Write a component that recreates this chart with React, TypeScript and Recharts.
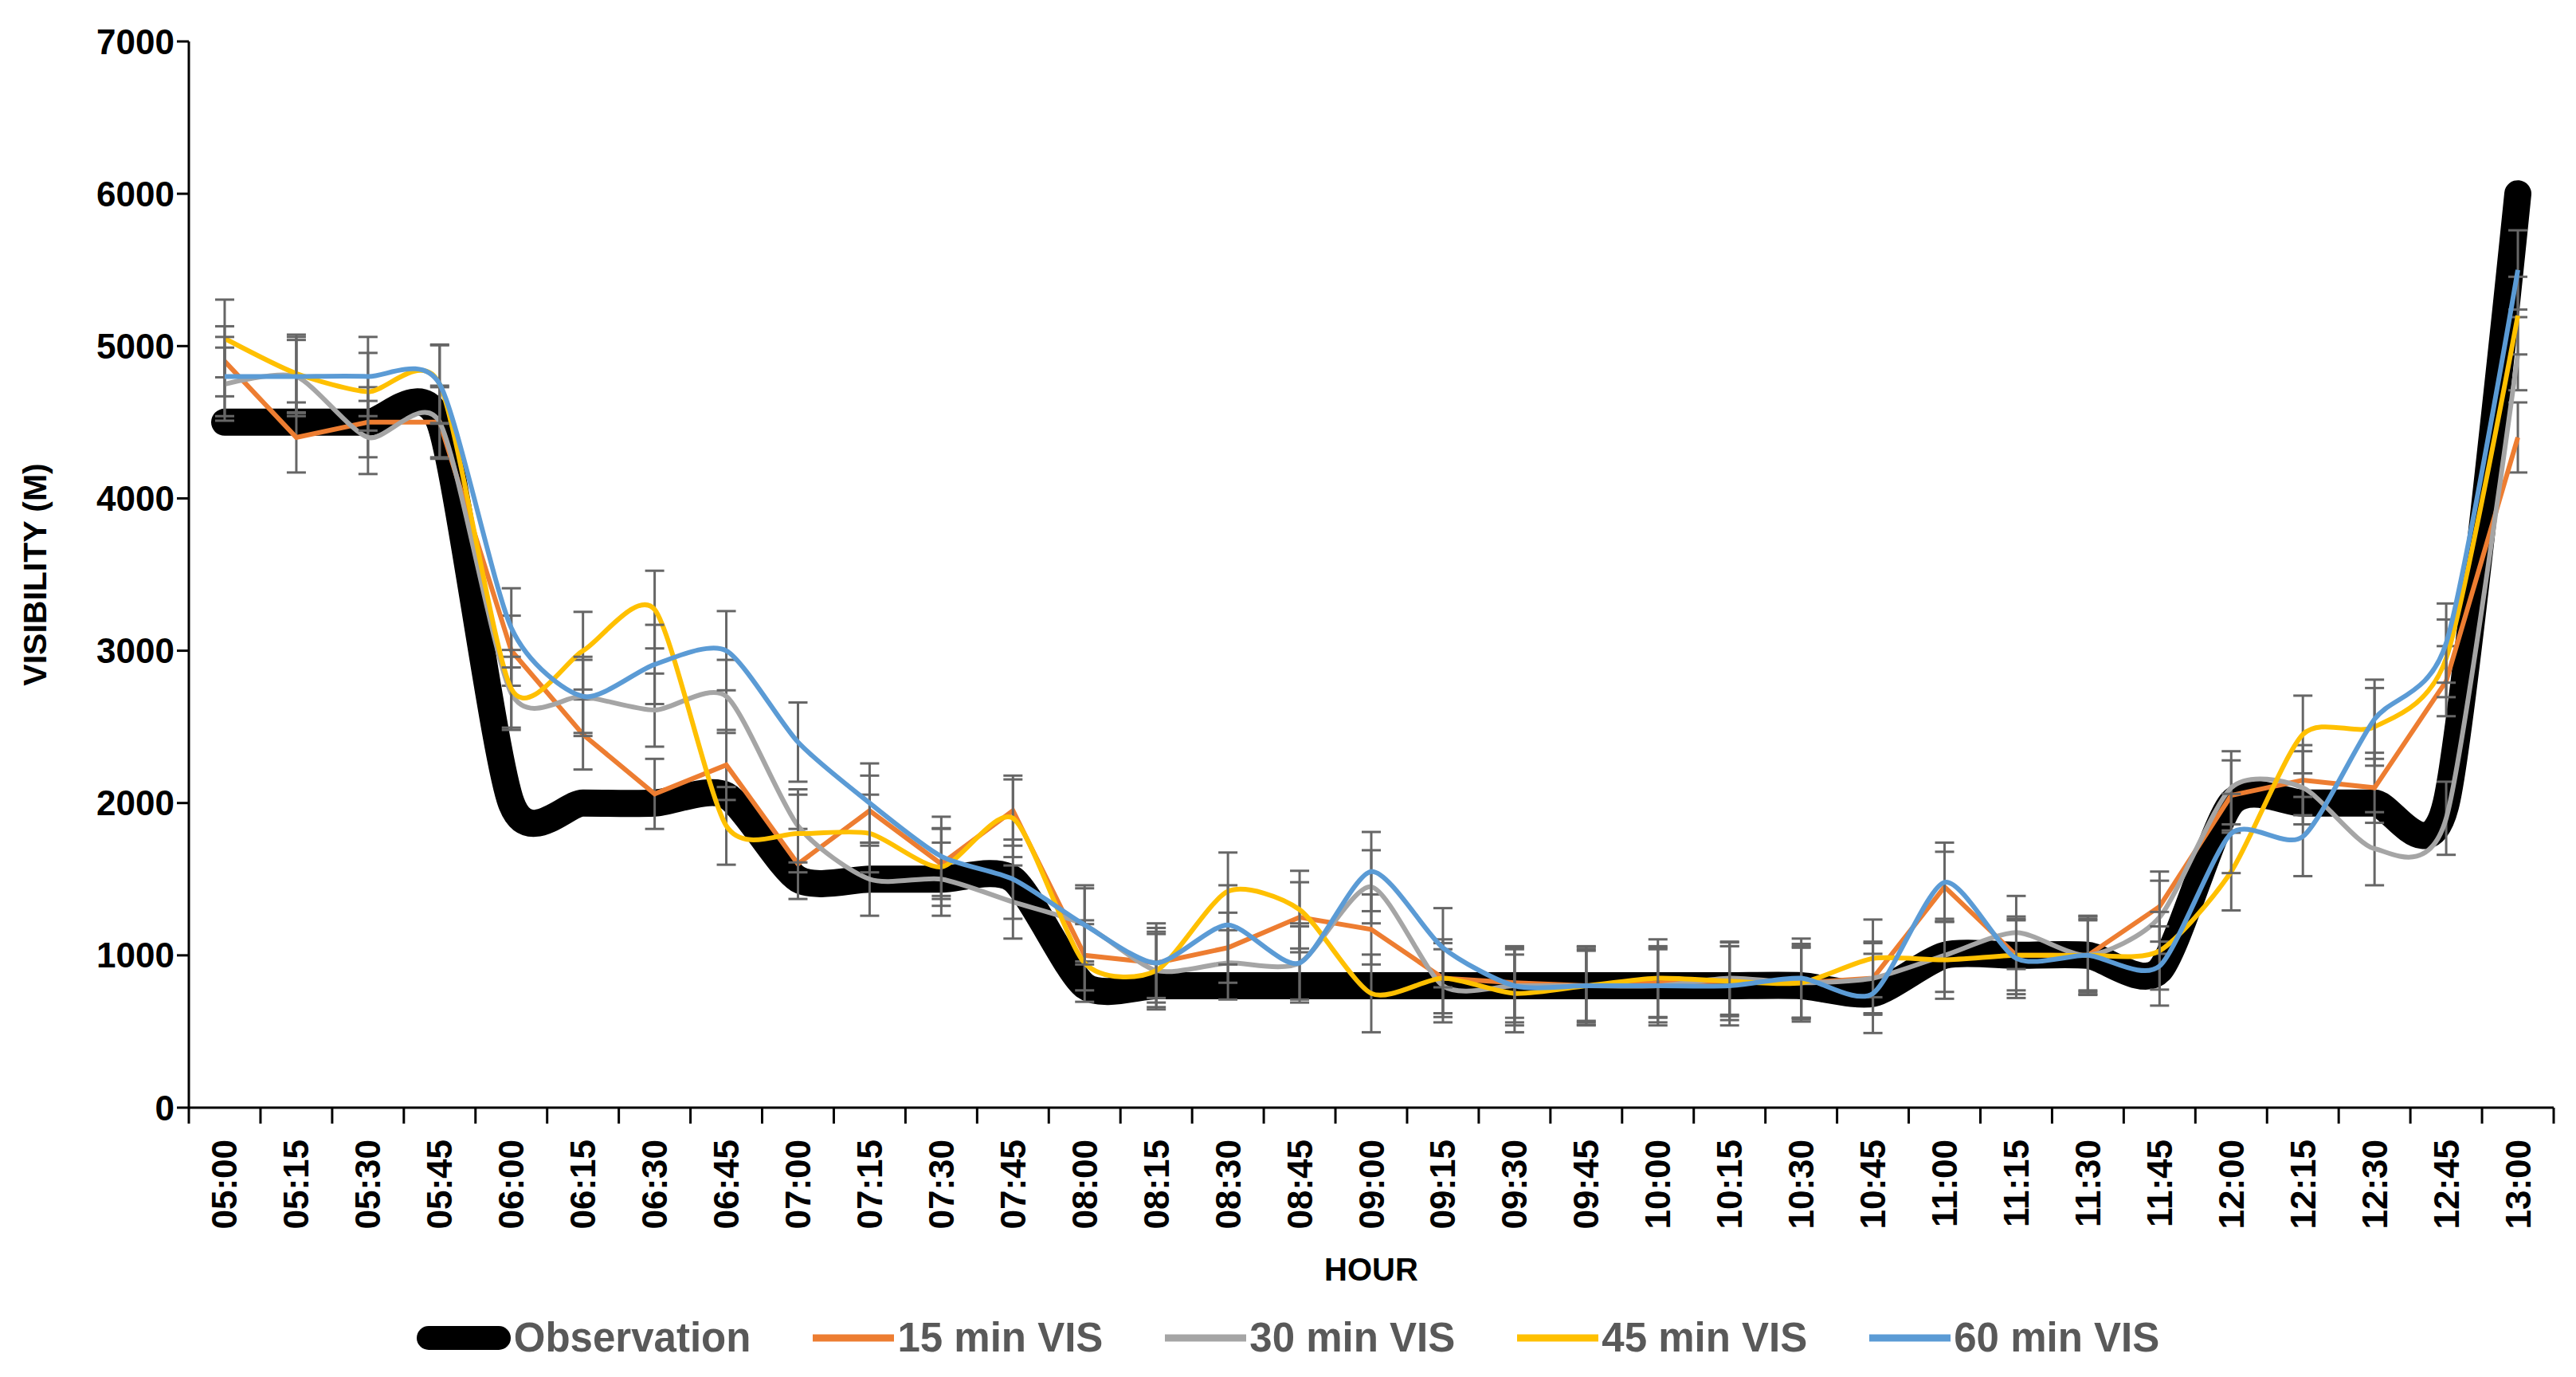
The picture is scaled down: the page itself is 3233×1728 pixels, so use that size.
import React from 'react';
import { LineChart, Line, XAxis, YAxis, ErrorBar } from 'recharts';

const TIMES = [
  '05:00', '05:15', '05:30', '05:45', '06:00', '06:15', '06:30', '06:45',
  '07:00', '07:15', '07:30', '07:45', '08:00', '08:15', '08:30', '08:45',
  '09:00', '09:15', '09:30', '09:45', '10:00', '10:15', '10:30', '10:45',
  '11:00', '11:15', '11:30', '11:45', '12:00', '12:15', '12:30', '12:45', '13:00',
];

const OBSERVATION = [
  4500, 4500, 4500, 4500, 2000, 2000, 2000, 2050,
  1500, 1500, 1500, 1500, 800, 800, 800, 800,
  800, 800, 800, 800, 800, 800, 800, 750,
  1000, 1000, 1000, 900, 2000, 2000, 2000, 2000, 6000,
];

const VIS_15 = [
  4900, 4400, 4500, 4500, 3000, 2450, 2060, 2250,
  1600, 1950, 1600, 1950, 1000, 950, 1050, 1250,
  1170, 850, 820, 800, 820, 830, 820, 850,
  1450, 1000, 1000, 1320, 2050, 2150, 2100, 2800, 4400,
];

const VIS_30 = [
  4750, 4800, 4400, 4500, 2720, 2700, 2610, 2700,
  1850, 1500, 1500, 1350, 1200, 900, 950, 950,
  1450, 800, 800, 800, 800, 850, 820, 850,
  1000, 1150, 1000, 1250, 2100, 2100, 1700, 1900, 4950,
];

const VIS_45 = [
  5050, 4820, 4700, 4750, 2750, 3000, 3270, 1850,
  1800, 1800, 1580, 1900, 950, 900, 1420, 1300,
  750, 850, 750, 800, 850, 830, 820, 980,
  970, 1000, 1000, 1030, 1550, 2450, 2500, 2950, 5200,
];

const VIS_60 = [
  4800, 4800, 4800, 4750, 3150, 2700, 2910, 3000,
  2400, 2000, 1650, 1500, 1200, 950, 1200, 950,
  1550, 1050, 800, 800, 800, 800, 850, 750,
  1480, 980, 1000, 930, 1800, 1780, 2550, 3050, 5500,
];

// standard-error style bars (same size at every point of a series)
const ERR_15 = 230;
const ERR_30 = 240;
const ERR_45 = 255;
const ERR_60 = 260;

const Y_TICKS = [0, 1000, 2000, 3000, 4000, 5000, 6000, 7000];

const SERIES = [
  { key: 'obs', name: 'Observation', color: '#000000' },
  { key: 'v15', name: '15 min VIS', color: '#ED7D31' },
  { key: 'v30', name: '30 min VIS', color: '#A5A5A5' },
  { key: 'v45', name: '45 min VIS', color: '#FFC000' },
  { key: 'v60', name: '60 min VIS', color: '#5B9BD5' },
];

const data = TIMES.map((t, i) => ({
  time: t,
  obs: OBSERVATION[i],
  v15: VIS_15[i],
  v30: VIS_30[i],
  v45: VIS_45[i],
  v60: VIS_60[i],
  e15: ERR_15,
  e30: ERR_30,
  e45: ERR_45,
  e60: ERR_60,
}));

const W = 3233;
const H = 1728;
const M_TOP = 52;
const M_RIGHT = 28;
const Y_W = 237;
const X_H = 338;
const BAND = (W - M_RIGHT - Y_W) / TIMES.length;
const FONT = "'Liberation Sans', Arial, sans-serif";

// Excel-like smoothing: cardinal spline with reduced tangent
function excelSmooth(k: number) {
  return (context: any) => {
    let x0 = NaN, y0 = NaN, x1 = NaN, y1 = NaN, x2 = NaN, y2 = NaN;
    let pt = 0;
    let line: number = NaN;
    const seg = (x: number, y: number) => {
      context.bezierCurveTo(
        x1 + k * (x2 - x0), y1 + k * (y2 - y0),
        x2 + k * (x1 - x), y2 + k * (y1 - y),
        x2, y2,
      );
    };
    return {
      areaStart() { line = 0; },
      areaEnd() { line = NaN; },
      lineStart() { x0 = x1 = x2 = y0 = y1 = y2 = NaN; pt = 0; },
      lineEnd() {
        switch (pt) {
          case 2: context.lineTo(x2, y2); break;
          case 3: seg(x1, y1); break;
        }
        if (line || (line !== 0 && pt === 1)) context.closePath();
        line = 1 - line;
      },
      point(xx: number, yy: number) {
        const x = +xx;
        const y = +yy;
        switch (pt) {
          case 0: pt = 1; if (line) context.lineTo(x, y); else context.moveTo(x, y); break;
          case 1: pt = 2; x1 = x; y1 = y; break;
          case 2: pt = 3; seg(x, y); break;
          default: seg(x, y); break;
        }
        x0 = x1; x1 = x2; x2 = x;
        y0 = y1; y1 = y2; y2 = y;
      },
    };
  };
}

const SMOOTH = excelSmooth(0.12);

const XTick = (props: any) => {
  const { x, y, payload, index } = props;
  const ty = y + 40;
  const last = index === TIMES.length - 1;
  return (
    <g>
      <line x1={x - BAND / 2} x2={x - BAND / 2} y1={y} y2={y + 20} stroke="#000" strokeWidth={3} />
      {last && <line x1={x + BAND / 2} x2={x + BAND / 2} y1={y} y2={y + 20} stroke="#000" strokeWidth={3} />}
      <text
        x={x}
        y={ty}
        transform={`rotate(-90 ${x} ${ty})`}
        textAnchor="end"
        dominantBaseline="central"
        fontSize={44}
        fontWeight="bold"
        fontFamily={FONT}
        fill="#000"
      >
        {payload.value}
      </text>
    </g>
  );
};

const YLabel = (props: any) => {
  const vb = props.viewBox || { x: 0, y: M_TOP, width: Y_W, height: H - M_TOP - X_H };
  const cx = 44;
  const cy = vb.y + vb.height / 2;
  return (
    <text
      x={cx}
      y={cy}
      transform={`rotate(-90 ${cx} ${cy})`}
      textAnchor="middle"
      dominantBaseline="central"
      fontSize={41}
      fontWeight="bold"
      fontFamily={FONT}
      fill="#000"
    >
      VISIBILITY (M)
    </text>
  );
};

const XLabel = (props: any) => {
  const vb = props.viewBox || { x: Y_W, y: H - X_H, width: W - Y_W - M_RIGHT, height: X_H };
  const cx = vb.x + vb.width / 2;
  const cy = vb.y + 203;
  return (
    <text
      x={cx}
      y={cy}
      textAnchor="middle"
      dominantBaseline="central"
      fontSize={40}
      fontWeight="bold"
      fontFamily={FONT}
      fill="#000"
    >
      HOUR
    </text>
  );
};

const Legend = () => (
  <div
    style={{
      position: 'absolute',
      left: 0,
      top: 1679 - 30,
      width: W,
      height: 60,
      display: 'flex',
      justifyContent: 'center',
      alignItems: 'center',
      fontFamily: FONT,
      fontWeight: 'bold',
      fontSize: 51,
      color: '#595959',
    }}
  >
    {SERIES.map((s, i) => (
      <div key={s.key} style={{ display: 'flex', alignItems: 'center', marginLeft: i === 0 ? 0 : 78 }}>
        <svg width={i === 0 ? 118 : 102} height={36} style={{ display: 'block' }}>
          {i === 0 ? (
            <line x1={15} x2={103} y1={18} y2={18} stroke={s.color} strokeWidth={30} strokeLinecap="round" />
          ) : (
            <line x1={0} x2={102} y1={18} y2={18} stroke={s.color} strokeWidth={9} />
          )}
        </svg>
        <span style={{ marginLeft: 4, lineHeight: '60px' }}>{s.name}</span>
      </div>
    ))}
  </div>
);

export default function App() {
  return (
    <div style={{ position: 'absolute', left: 0, top: 0, width: W, height: H, background: '#fff' }}>
      <LineChart
        width={W}
        height={H}
        data={data}
        margin={{ top: M_TOP, right: M_RIGHT, bottom: 0, left: 0 }}
      >
        <XAxis
          dataKey="time"
          interval={0}
          height={X_H}
          padding={{ left: BAND / 2, right: BAND / 2 }}
          tick={<XTick />}
          tickLine={false}
          tickSize={0}
          tickMargin={0}
          axisLine={{ stroke: '#000', strokeWidth: 3 }}
          label={<XLabel />}
        />
        <YAxis
          width={Y_W}
          domain={[0, 7000]}
          ticks={Y_TICKS}
          interval={0}
          tickSize={15}
          tickMargin={3}
          axisLine={{ stroke: '#000', strokeWidth: 3 }}
          tickLine={{ stroke: '#000', strokeWidth: 3 }}
          tick={{ fontSize: 44, fontWeight: 'bold', fill: '#000', fontFamily: FONT }}
          label={<YLabel />}
        />
        <Line
          dataKey="obs"
          type={SMOOTH as any}
          stroke="#000"
          strokeWidth={34}
          strokeLinecap="round"
          strokeLinejoin="round"
          dot={false}
          activeDot={false}
          isAnimationActive={false}
        />
        <Line
          dataKey="v15"
          type="linear"
          stroke="#ED7D31"
          strokeWidth={6}
          dot={false}
          activeDot={false}
          isAnimationActive={false}
        >
          <ErrorBar dataKey="e15" direction="y" width={12} stroke="#666666" strokeWidth={3} />
        </Line>
        <Line
          dataKey="v30"
          type={SMOOTH as any}
          stroke="#A5A5A5"
          strokeWidth={6}
          dot={false}
          activeDot={false}
          isAnimationActive={false}
        >
          <ErrorBar dataKey="e30" direction="y" width={12} stroke="#666666" strokeWidth={3} />
        </Line>
        <Line
          dataKey="v45"
          type={SMOOTH as any}
          stroke="#FFC000"
          strokeWidth={6}
          dot={false}
          activeDot={false}
          isAnimationActive={false}
        >
          <ErrorBar dataKey="e45" direction="y" width={12} stroke="#666666" strokeWidth={3} />
        </Line>
        <Line
          dataKey="v60"
          type={SMOOTH as any}
          stroke="#5B9BD5"
          strokeWidth={6}
          dot={false}
          activeDot={false}
          isAnimationActive={false}
        >
          <ErrorBar dataKey="e60" direction="y" width={12} stroke="#666666" strokeWidth={3} />
        </Line>
      </LineChart>
      <Legend />
    </div>
  );
}
